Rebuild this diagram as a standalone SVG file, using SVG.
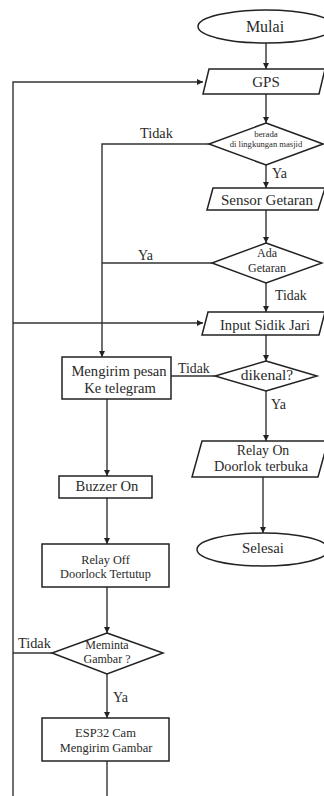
<svg xmlns="http://www.w3.org/2000/svg" width="324" height="796" viewBox="0 0 324 796">
<defs>
<marker id="arr" viewBox="0 0 10 10" refX="10" refY="5" markerWidth="6" markerHeight="6" markerUnits="userSpaceOnUse" orient="auto">
<path d="M0,0 L10,5 L0,10 z" fill="#222"/>
</marker>
<style>
.s{fill:#fff;stroke:#222;stroke-width:1.5}
.c{fill:none;stroke:#333;stroke-width:1.4}
.a{marker-end:url(#arr)}
text{font-family:"Liberation Serif","Times New Roman",serif;fill:#2a2a2a}
.m{text-anchor:middle}
</style>
</defs>
<rect width="324" height="796" fill="#fff"/>
<g id="connectors">
<path class="c a" d="M266,43 V69"/>
<path class="c a" d="M266,94 V123"/>
<path class="c a" d="M266,165 V188"/>
<path class="c a" d="M266,210 V243"/>
<path class="c a" d="M266,283 V312"/>
<path class="c a" d="M266,335 V361"/>
<path class="c a" d="M266,391 V441"/>
<path class="c a" d="M263,477 V533"/>
<path class="c a" d="M209,144 H102 V357"/>
<path class="c" d="M212,263 H102"/>
<path class="c" d="M215,376 H171"/>
<path class="c a" d="M107,399 V476"/>
<path class="c a" d="M107,498 V544"/>
<path class="c a" d="M107,587 V633"/>
<path class="c a" d="M107,674 V718"/>
<path class="c" d="M107,761 V796"/>
<path class="c" d="M52,653 H13"/>
<path class="c a" d="M13,796 V82 H203"/>
<path class="c a" d="M13,323 H203"/>
<text x="140" y="138" font-size="14.3">Tidak</text>
<text x="272" y="178" font-size="14">Ya</text>
<text x="138" y="260" font-size="14">Ya</text>
<text x="275" y="300" font-size="13.8">Tidak</text>
<text x="178" y="373" font-size="13.8">Tidak</text>
<text x="271" y="409" font-size="14">Ya</text>
<text x="18" y="648" font-size="14.3">Tidak</text>
<text x="113" y="702" font-size="14">Ya</text>
</g>
<g id="mulai">
<ellipse class="s" cx="266" cy="26.5" rx="68" ry="16.5"/>
<text class="m" x="265" y="32" font-size="16">Mulai</text>
</g>
<g id="gps">
<polygon class="s" points="209,69 325,69 319,94 203,94"/>
<text class="m" x="266" y="87" font-size="15">GPS</text>
</g>
<g id="cek-lokasi">
<polygon class="s" points="266,123 323,144 266,165 209,144"/>
<text class="m" x="266" y="137" font-size="8.8">berada</text>
<text class="m" x="266" y="147" font-size="8.6">di lingkungan masjid</text>
</g>
<g id="sensor-getaran">
<polygon class="s" points="213,188 325,188 318,210 207,210"/>
<text class="m" x="267" y="205" font-size="15">Sensor Getaran</text>
</g>
<g id="ada-getaran">
<polygon class="s" points="266,243 322,263 266,283 212,263"/>
<text class="m" x="267" y="257" font-size="12">Ada</text>
<text class="m" x="267" y="272" font-size="12">Getaran</text>
</g>
<g id="input-sidik">
<polygon class="s" points="208,312 325,312 319,335 202,335"/>
<text class="m" x="265" y="330" font-size="14.6">Input Sidik Jari</text>
</g>
<g id="dikenal">
<polygon class="s" points="266,361 317,376 266,391 215,376"/>
<text class="m" x="267" y="380" font-size="15.5">dikenal?</text>
</g>
<g id="mengirim-pesan">
<rect class="s" x="62" y="357" width="109" height="42"/>
<text class="m" x="119" y="376" font-size="14.6">Mengirim pesan</text>
<text class="m" x="120" y="393" font-size="14.6">Ke telegram</text>
</g>
<g id="relay-on">
<polygon class="s" points="202,441 328,441 318,477 192,477"/>
<text class="m" x="263" y="455" font-size="13.8">Relay On</text>
<text class="m" x="261" y="470.5" font-size="14.3">Doorlok terbuka</text>
</g>
<g id="selesai">
<ellipse class="s" cx="263" cy="549.5" rx="66" ry="16.5"/>
<text class="m" x="263" y="553" font-size="14.8">Selesai</text>
</g>
<g id="buzzer">
<rect class="s" x="59" y="476" width="93" height="22"/>
<text class="m" x="107" y="491" font-size="14.6">Buzzer On</text>
</g>
<g id="relay-off">
<rect class="s" x="42" y="544" width="127" height="43"/>
<text class="m" x="105.5" y="564" font-size="12.3">Relay Off</text>
<text class="m" x="105.5" y="578" font-size="12.3">Doorlock Tertutup</text>
</g>
<g id="meminta-gambar">
<polygon class="s" points="107,633 163,653 107,674 52,653"/>
<text class="m" x="107" y="649" font-size="12">Meminta</text>
<text class="m" x="107" y="663" font-size="12">Gambar ?</text>
</g>
<g id="esp32">
<rect class="s" x="42" y="718" width="127" height="43"/>
<text class="m" x="105.5" y="737" font-size="12.5">ESP32 Cam</text>
<text class="m" x="106" y="752" font-size="12.4">Mengirim Gambar</text>
</g>
</svg>
